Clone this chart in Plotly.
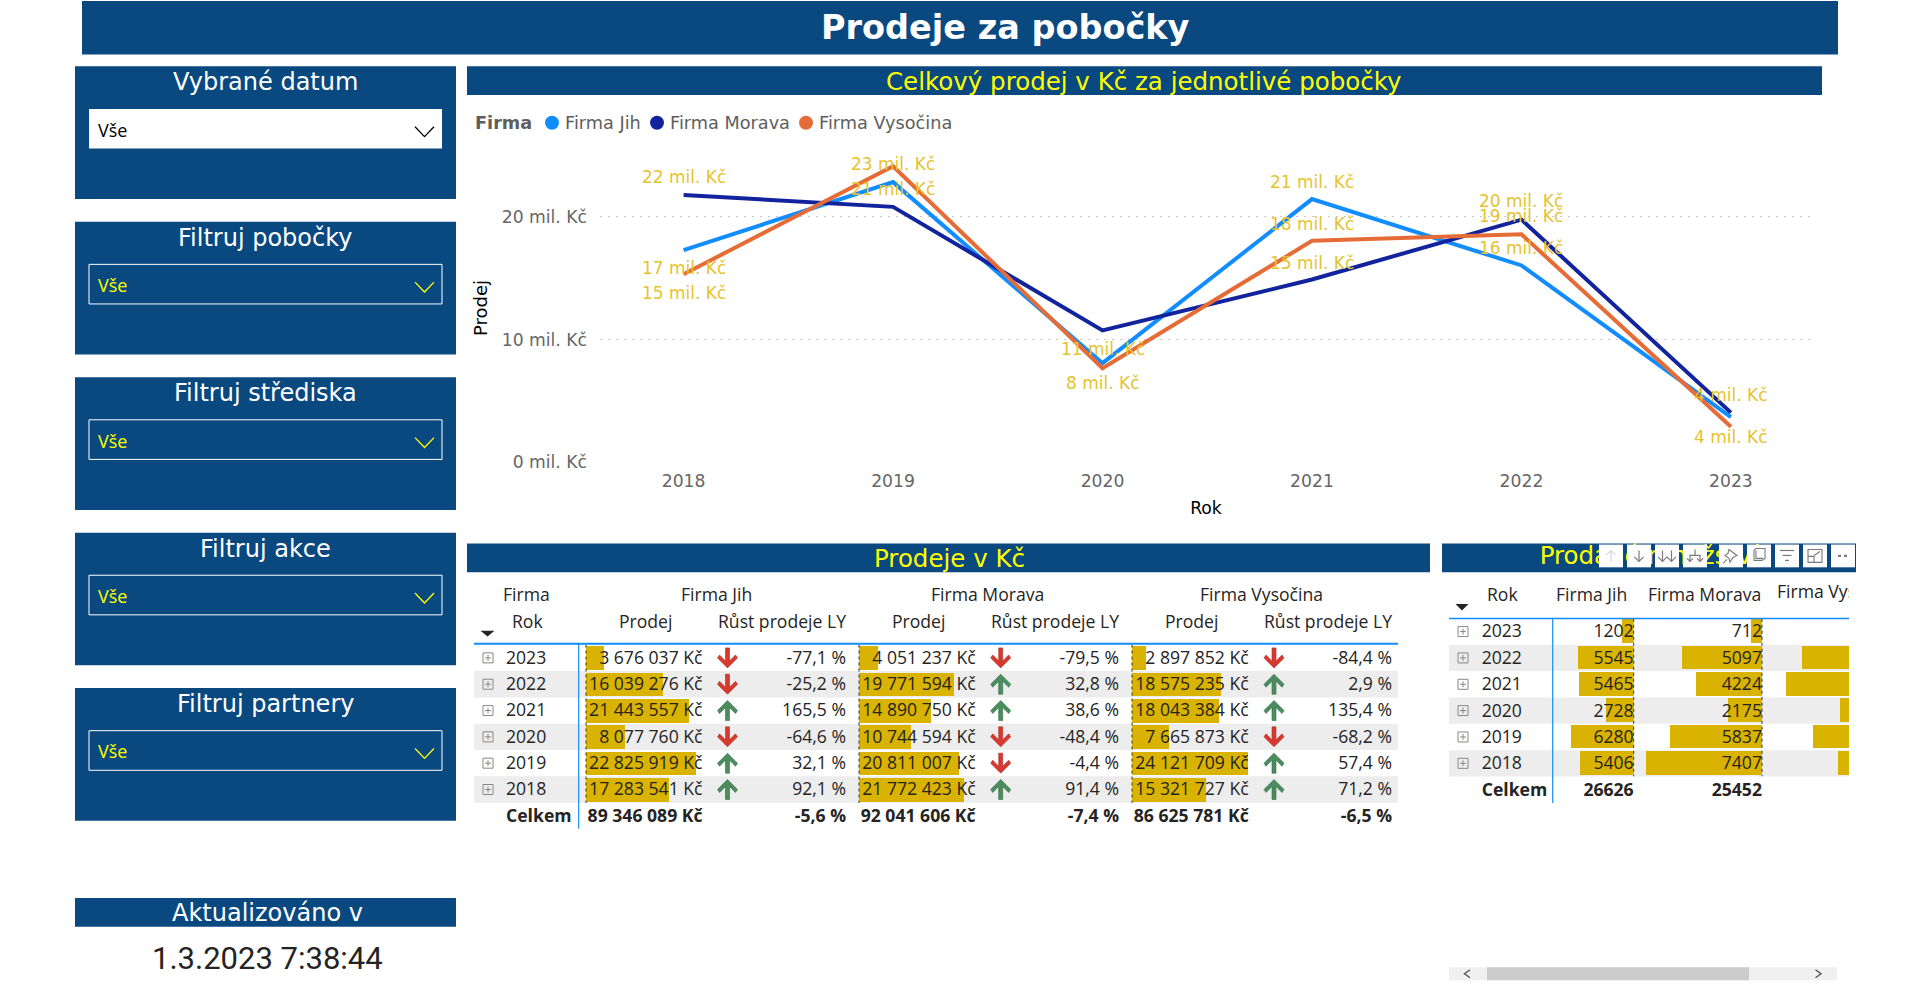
import plotly.graph_objects as go

# ---------- data ----------
ROKY = ["2023", "2022", "2021", "2020", "2019", "2018"]
ROKY_CISLA = [2018, 2019, 2020, 2021, 2022, 2023]
FIRMY = ["Firma Jih", "Firma Morava", "Firma Vysočina"]
PRODEJ_JIH = [3676037, 16039276, 21443557, 8077760, 22825919, 17283541]
PRODEJ_MORAVA = [4051237, 19771594, 14890750, 10744594, 20811007, 21772423]
PRODEJ_VYSOCINA = [2897852, 18575235, 18043384, 7665873, 24121709, 15321727]
RUST_JIH = [-77.1, -25.2, 165.5, -64.6, 32.1, 92.1]
RUST_MORAVA = [-79.5, 32.8, 38.6, -48.4, -4.4, 91.4]
RUST_VYSOCINA = [-84.4, 2.9, 135.4, -68.2, 57.4, 71.2]
CELKEM_PRODEJ = [89346089, 92041606, 86625781]
CELKEM_RUST = [-5.6, -7.4, -6.5]
MNOZSTVI_JIH = [1202, 5545, 5465, 2728, 6280, 5406]
MNOZSTVI_MORAVA = [712, 5097, 4224, 2175, 5837, 7407]
MNOZSTVI_VYSOCINA = [1000, 6800, 7870, 4270, 6070, 4400]
CELKEM_MNOZSTVI = [26626, 25452]
Y_TICKS = [0, 10000000, 20000000]
Y_TICK_LABELS = ["0 mil. Kč", "10 mil. Kč", "20 mil. Kč"]
FILTRY = ["Vybrané datum", "Filtruj pobočky", "Filtruj střediska", "Filtruj akce", "Filtruj partnery"]
AKTUALIZACE = "1.3.2023 7:38:44"

# ---------- style ----------
W, H = 1920, 1008
NAVY = "#0A4880"
YELLOW = "#FFFF00"
GOLD = "#D9B300"
LABEL = "#E6C32E"
INK = "#252423"
STRIPE = "#EDEDED"
BLUE = "#118DFF"
COLORS = ["#118DFF", "#12239E", "#E66C37"]
VERD = "DejaVu Sans"
SEGOE = "Open Sans"
CELL = 17.6
CHART = 17.2

def fx(x): return x / W
def fy(y): return 1 - y / H

shapes, ann, traces = [], [], []

def rect(x0, y0, x1, y1, fill, line=None, lw=1, layer="below"):
    shapes.append(dict(type="rect", xref="paper", yref="paper", x0=fx(x0), x1=fx(x1), y0=fy(y0), y1=fy(y1),
                       fillcolor=fill, line=dict(color=line or fill, width=lw if line else 0), layer=layer))

def hline(x0, x1, y, color, w=1, dash="solid", layer="above"):
    shapes.append(dict(type="line", xref="paper", yref="paper", x0=fx(x0), x1=fx(x1), y0=fy(y), y1=fy(y),
                       line=dict(color=color, width=w, dash=dash), layer=layer))

def vline(x, y0, y1, color, w=1, dash="solid", layer="above"):
    shapes.append(dict(type="line", xref="paper", yref="paper", x0=fx(x), x1=fx(x), y0=fy(y0), y1=fy(y1),
                       line=dict(color=color, width=w, dash=dash), layer=layer))

def poly(pts, color=None, line=None, lw=1, close=True, layer="above"):
    d = "M" + " L".join(f"{fx(x):.6f},{fy(y):.6f}" for x, y in pts) + (" Z" if close else "")
    shapes.append(dict(type="path", xref="paper", yref="paper", path=d, fillcolor=color or "rgba(0,0,0,0)",
                       line=dict(color=line or "rgba(0,0,0,0)", width=lw), layer=layer))

def text(x, y, s, size, color, family=VERD, anchor="center", **kw):
    ann.append(dict(xref="paper", yref="paper", x=fx(x), y=fy(y), text=s, showarrow=False, xanchor=anchor,
                    yanchor="middle", font=dict(family=family, size=size, color=color), **kw))

# ---------- header and filter panels ----------
rect(82, 1, 1838, 55, NAVY)
text(1005, 28, "<b>Prodeje za pobočky</b>", 33.5, "#FFFFFF")
PANEL_TOPS = [67, 224, 381, 538, 695]
for i, (top, name) in enumerate(zip(PANEL_TOPS, FILTRY)):
    rect(75, top, 456, top + 134, NAVY)
    text(265, top + 16, name, 24, "#FFFFFF")
    c = "#000000" if i == 0 else YELLOW
    if i == 0:
        rect(89, top + 43, 442, top + 83, "#FFFFFF")
    else:
        rect(89, top + 43, 442, top + 83, "rgba(0,0,0,0)", "#FFFFFF", 1)
    text(96, top + 64, "Vše", 18, c, SEGOE, "left")
    poly([(415, top + 61), (424.5, top + 71), (434, top + 61)], None, c, 1.3, close=False)

rect(75, 907, 456, 936, NAVY)
text(267, 922, "Aktualizováno v", 24, "#FFFFFF")
text(267, 968, AKTUALIZACE, 31, INK, "Roboto")

# ---------- section bands ----------
rect(467, 67, 1822, 96, NAVY)
text(1144, 82, "Celkový prodej v Kč za jednotlivé pobočky", 24.5, YELLOW)
rect(467, 549, 1430, 578, NAVY)
text(949, 564, "Prodeje v Kč", 24.5, YELLOW)
rect(1442, 549, 1856, 578, NAVY)

# ---------- line chart ----------
CH_L, CH_R, CH_T, CH_B = 600, 1812, 155, 467
chrono = ROKY_CISLA
series = [PRODEJ_JIH[::-1], PRODEJ_MORAVA[::-1], PRODEJ_VYSOCINA[::-1]]
for name, vals, col in zip(FIRMY, series, COLORS):
    traces.append(go.Scatter(x=chrono, y=vals, name=name, mode="lines", line=dict(color=col, width=4),
                             showlegend=False, xaxis="x", yaxis="y"))
# label offsets per series and year; years left out have no label (overlap in the reference)
SHIFT = [
    {2018: -18, 2019: 18, 2021: 17, 2022: 17, 2023: -20},
    {2018: 18, 2019: 18, 2020: -19, 2021: 17, 2022: 19, 2023: 18},
    {2018: -19, 2020: -15, 2021: 17, 2022: 18},
]
for s_map, vals in zip(SHIFT, series):
    for yr, v in zip(chrono, vals):
        if yr in s_map:
            ann.append(dict(xref="x", yref="y", x=yr, y=v, text=f"{round(v / 1e6)} mil. Kč", showarrow=False,
                            yshift=s_map[yr], font=dict(family=VERD, size=17, color=LABEL)))

# chart legend
text(473, 124, "<b>Firma</b>", 17.7, "#605E5C", VERD, "left")
for name, col, dot, tx in zip(FIRMY, COLORS, [552, 657, 806], [563, 668, 817]):
    shapes.append(dict(type="circle", xref="paper", yref="paper", x0=fx(dot - 7), x1=fx(dot + 7),
                       y0=fy(124 + 7), y1=fy(124 - 7), fillcolor=col, line=dict(width=0), layer="above"))
    text(tx, 124, name, 17.7, "#605E5C", VERD, "left")

# ---------- left table ----------
ROWS = ROKY + ["Celkem"]
T1_TOP, T1_BOT = 651.2, 837.3
TEXT_DROP = 1.5
T1_BAR_L = [586, 859, 1132]
T1_BAR_W = 116
T1_P_R = [702.5, 975.6, 1248.7]
T1_G_R = [846, 1119, 1392]
T1_ARW = [727.5, 1000.7, 1274]
T1_HP = [645, 918, 1191]
T1_HG = [781.5, 1054.6, 1328]
T1_HF = [716, 988, 1261.6]
prodeje = [PRODEJ_JIH, PRODEJ_MORAVA, PRODEJ_VYSOCINA]
rusty = [RUST_JIH, RUST_MORAVA, RUST_VYSOCINA]
MAXV = max(max(p) for p in prodeje)

def kc(v): return f"{v:,}".replace(",", " ") + " Kč"
def pct(v): return f"{v:.1f}".replace(".", ",") + " %"

def cells(x, rows, labels, axis, yaxis, side, bold=False, size=CELL):
    traces.append(go.Scatter(x=[x] * len(rows), y=rows, text=[f"<b>{t}</b>" if bold else t for t in labels],
                             mode="text", textposition="middle " + side, cliponaxis=False, showlegend=False,
                             textfont=dict(family=SEGOE, size=size, color=INK), xaxis=axis, yaxis=yaxis, hoverinfo="skip"))

for i in (1, 3, 5):
    shapes.append(dict(type="rect", xref="paper", yref="y2", x0=fx(474), x1=fx(1398), y0=i - 0.5, y1=i + 0.5,
                       fillcolor=STRIPE, line=dict(width=0), layer="below"))
    shapes.append(dict(type="rect", xref="paper", yref="y3", x0=fx(1449), x1=fx(1849), y0=i - 0.5, y1=i + 0.5,
                       fillcolor=STRIPE, line=dict(width=0), layer="below"))

for k, (vals, axis) in enumerate(zip(prodeje, ["x2", "x3", "x4"])):
    traces.append(go.Bar(y=ROKY, x=vals, orientation="h", marker=dict(color=GOLD, line=dict(width=0)), width=0.9,
                         showlegend=False, xaxis=axis, yaxis="y2", name=FIRMY[k]))
    vline(T1_BAR_L[k], 651, 811, "#333333", 1, "dot")

cells(506, ROKY, ROKY, "x5", "y6", "right")
cells(506, ["Celkem"], ["Celkem"], "x5", "y6", "right", True)
for k in range(3):
    cells(T1_P_R[k], ROKY, [kc(v) for v in prodeje[k]], "x5", "y6", "left")
    cells(T1_G_R[k], ROKY, [pct(v) for v in rusty[k]], "x5", "y6", "left")
    cells(T1_P_R[k], ["Celkem"], [kc(CELKEM_PRODEJ[k])], "x5", "y6", "left", True)
    cells(T1_G_R[k], ["Celkem"], [pct(CELKEM_RUST[k])], "x5", "y6", "left", True)

UP = "M0,10 L10,0 L8,-3 L2,3 L2,-10 L-2,-10 L-2,3 L-8,-3 L-10,0 Z"
DOWN = "M0,-10 L10,0 L8,3 L2,-3 L2,10 L-2,10 L-2,-3 L-8,3 L-10,0 Z"
for k in range(3):
    for i, g in enumerate(rusty[k]):
        up = g > 0
        shapes.append(dict(type="path", xref="x5", yref="y2", xsizemode="pixel", ysizemode="pixel",
                           xanchor=T1_ARW[k], yanchor=i, path=UP if up else DOWN,
                           fillcolor="#4C8C5E" if up else "#D8392F",
                           line=dict(color="#2F6B45" if up else "#A83028", width=0.6), layer="above"))

EXP_BOX = "M-5,-5 L5,-5 L5,5 L-5,5 Z M-3,0 L3,0 M0,-3 L0,3"
for i in range(6):
    shapes.append(dict(type="path", xref="x5", yref="y2", xsizemode="pixel", ysizemode="pixel", xanchor=488, yanchor=i,
                       path=EXP_BOX, line=dict(color="#8A8886", width=1), layer="above"))
    shapes.append(dict(type="path", xref="x9", yref="y3", xsizemode="pixel", ysizemode="pixel", xanchor=1463, yanchor=i,
                       path=EXP_BOX, line=dict(color="#8A8886", width=1), layer="above"))

hline(474, 1398, 650.3, BLUE, 2)
vline(578.7, 650, 837, BLUE, 1.2)
text(526, 600, "Firma", CELL, INK, SEGOE)
text(527, 627, "Rok", CELL, INK, SEGOE)
poly([(480.5, 637), (494.5, 637), (487.5, 643)], INK)
for k in range(3):
    text(T1_HF[k], 600, FIRMY[k], CELL, INK, SEGOE)
    text(T1_HP[k], 627, "Prodej", CELL, INK, SEGOE)
    text(T1_HG[k], 627, "Růst prodeje LY", CELL, INK, SEGOE)

# ---------- right table ----------
T2_TOP, T2_BOT = 624.6, 810.9
for vals, axis, name in zip([MNOZSTVI_JIH, MNOZSTVI_MORAVA, MNOZSTVI_VYSOCINA], ["x6", "x7", "x8"], FIRMY):
    traces.append(go.Bar(y=ROKY, x=vals, orientation="h", marker=dict(color=GOLD, line=dict(width=0)), width=0.9,
                         showlegend=False, xaxis=axis, yaxis="y3", name=name))
cells(1481.7, ROKY, ROKY, "x9", "y7", "right")
cells(1481.7, ["Celkem"], ["Celkem"], "x9", "y7", "right", True)
T2_R = [1633.7, 1762]
for k, (vals, tot) in enumerate(zip([MNOZSTVI_JIH, MNOZSTVI_MORAVA], CELKEM_MNOZSTVI)):
    cells(T2_R[k], ROKY, [str(v) for v in vals], "x9", "y7", "left")
    cells(T2_R[k], ["Celkem"], [str(tot)], "x9", "y7", "left", True)
    vline(T2_R[k], 625, 784, "#333333", 1, "dot")
hline(1449, 1849, 624.7, BLUE, 1.5)
vline(1552.7, 624, 811, BLUE, 1.2)
text(1502, 600, "Rok", CELL, INK, SEGOE)
poly([(1455.5, 610), (1468.5, 610), (1462, 616.5)], INK)
text(1591, 600, FIRMY[0], CELL, INK, SEGOE)
text(1704, 600, FIRMY[1], CELL, INK, SEGOE)
# third column header, clipped by its plot area at the table edge
traces.append(go.Scatter(x=[1777], y=[0], text=[FIRMY[2]], mode="text", textposition="middle right", cliponaxis=True,
                         showlegend=False, textfont=dict(family=SEGOE, size=CELL, color=INK), xaxis="x10", yaxis="y4",
                         hoverinfo="skip"))
# title of the right table sits under the toolbar, so it is a trace, not an annotation
traces.append(go.Scatter(x=[1649], y=[0], text=["Prodané množství"], mode="text", textposition="middle center",
                         cliponaxis=False, showlegend=False, textfont=dict(family=VERD, size=24.5, color=YELLOW),
                         xaxis="x11", yaxis="y5", hoverinfo="skip"))

# scrollbar
rect(1449, 977, 1837, 990, "#F0F0F0")
rect(1487, 977, 1749, 990, "#CCCCCC")
poly([(1470, 979.5), (1464.5, 983.5), (1470, 987.5)], None, "#555555", 1.4, close=False)
poly([(1815.5, 979.5), (1821, 983.5), (1815.5, 987.5)], None, "#555555", 1.4, close=False)

# visual-header toolbar
GREY = "#7A7A7A"
BOXES = [1599, 1627, 1655, 1683, 1719, 1747, 1775, 1803, 1831]
for bx in BOXES:
    rect(bx, 550, bx + 24, 573, "#FFFFFF", layer="above")
def arrow(cx, col, up=False):
    a, b = (556, 567) if not up else (567, 556)
    poly([(cx, a), (cx, b)], None, col, 1.2, close=False)
    poly([(cx - 4.5, b + (-4.5 if not up else 4.5)), (cx, b), (cx + 4.5, b + (-4.5 if not up else 4.5))], None, col, 1.2, close=False)
arrow(1611, "#D6D6D6", True)
arrow(1639, GREY)
arrow(1662.5, GREY); arrow(1671.5, GREY)
c = 1695
poly([(c, 555), (c, 561), (c - 5, 561), (c - 5, 567)], None, GREY, 1.2, close=False)
poly([(c, 561), (c + 5, 561), (c + 5, 567)], None, GREY, 1.2, close=False)
poly([(c - 8, 564), (c - 5, 567), (c - 2, 564)], None, GREY, 1.2, close=False)
poly([(c + 2, 564), (c + 5, 567), (c + 8, 564)], None, GREY, 1.2, close=False)
c = 1731
poly([(c - 2, 555), (c + 6, 561), (c + 2, 563), (c - 1, 568), (c - 2, 564), (c - 6, 561), (c - 3, 559)], None, GREY, 1.1)
poly([(c - 8, 569), (c - 4, 565)], None, GREY, 1.1, close=False)
c = 1759
poly([(c - 3, 554), (c + 6, 554), (c + 6, 564), (c + 3, 566), (c - 5, 566), (c - 5, 556)], None, GREY, 1.1)
poly([(c - 3, 556), (c - 3, 564), (c + 4, 564)], None, GREY, 1.1, close=False)
c = 1787
hline(c - 7, c + 7, 556, GREY, 1.2); hline(c - 4.5, c + 4.5, 561, GREY, 1.2); hline(c - 2, c + 2, 566, GREY, 1.2)
c = 1815
poly([(c - 7, 555), (c + 7, 555), (c + 7, 568), (c - 7, 568)], None, GREY, 1.1)
poly([(c - 1, 561), (c + 5, 557)], None, GREY, 1.1, close=False)
poly([(c - 7, 562), (c - 1, 562), (c - 1, 568)], None, GREY, 1.1, close=False)
hline(1838, 1848, 561.5, GREY, 2.2, "dot")

# ---------- figure ----------
def xax(l, r, rng, anchor):
    return dict(domain=[fx(l), fx(r)], range=rng, visible=False, anchor=anchor, fixedrange=True)

def yax(top, bot, anchor):
    return dict(domain=[fy(bot), fy(top)], type="category", categoryorder="array", categoryarray=ROWS,
                range=[6.5, -0.5], visible=False, anchor=anchor, fixedrange=True)

def ypx(top, bot, anchor):
    return dict(domain=[fy(bot), fy(top)], range=[-1, 1], visible=False, anchor=anchor, fixedrange=True)

PX_UNIT_JIH, PX_UNIT_MOR, PX_UNIT_VYS = 0.00998, 0.0157, 0.015

layout = dict(
    width=W, height=H, margin=dict(l=0, r=0, t=0, b=0), autosize=False, paper_bgcolor="#FFFFFF", plot_bgcolor="rgba(0,0,0,0)",
    showlegend=False, shapes=shapes, annotations=ann, bargap=0, barmode="overlay",
    xaxis=dict(domain=[fx(CH_L), fx(CH_R)], range=[2018 - 0.399, 2018 + 5.387], tickvals=ROKY_CISLA,
               showgrid=False, zeroline=False, showline=False, ticks="", anchor="y",
               tickfont=dict(family=VERD, size=CHART, color="#666666"), ticklabelstandoff=6,
               title=dict(text="Rok", font=dict(family=VERD, size=CHART, color="#000000"), standoff=12)),
    yaxis=dict(domain=[fy(CH_B), fy(CH_T)], range=[0, 25160000], tickvals=Y_TICKS, ticktext=Y_TICK_LABELS,
               showgrid=True, gridcolor="#C8C8C8", griddash="2px,6px", gridwidth=1, zeroline=False, showline=False, anchor="x",
               tickfont=dict(family=VERD, size=CHART, color="#666666"), ticklabelstandoff=12,
               title=dict(text="Prodej", font=dict(family=VERD, size=18, color="#000000"), standoff=9)),
    yaxis2=yax(T1_TOP, T1_BOT, "x5"),
    yaxis3=yax(T2_TOP, T2_BOT, "x9"),
    yaxis4=ypx(588, 612, "x10"),
    yaxis5=ypx(549, 578, "x11"),
    yaxis6=yax(T1_TOP + TEXT_DROP, T1_BOT + TEXT_DROP, "x5"),
    yaxis7=yax(T2_TOP + TEXT_DROP, T2_BOT + TEXT_DROP, "x9"),
    xaxis2=xax(T1_BAR_L[0], T1_BAR_L[0] + T1_BAR_W, [0, MAXV], "y2"),
    xaxis3=xax(T1_BAR_L[1], T1_BAR_L[1] + T1_BAR_W, [0, MAXV], "y2"),
    xaxis4=xax(T1_BAR_L[2], T1_BAR_L[2] + T1_BAR_W, [0, MAXV], "y2"),
    xaxis5=xax(474, 1398, [474, 1398], "y2"),
    xaxis6=xax(1560, T2_R[0], [(T2_R[0] - 1560) / PX_UNIT_JIH, 0], "y3"),
    xaxis7=xax(1640, T2_R[1], [(T2_R[1] - 1640) / PX_UNIT_MOR, 0], "y3"),
    xaxis8=xax(1775, 1849, [(1904 - 1775) / PX_UNIT_VYS, (1904 - 1849) / PX_UNIT_VYS], "y3"),
    xaxis9=xax(1449, 1849, [1449, 1849], "y3"),
    xaxis10=xax(1770, 1849, [1770, 1849], "y4"),
    xaxis11=xax(1442, 1856, [1442, 1856], "y5"),
)

fig = go.Figure(data=traces, layout=layout)
fig.write_html("out.html", config=dict(displayModeBar=False, responsive=False),
               post_script="document.body.style.margin='0';document.body.style.overflow='hidden';")
